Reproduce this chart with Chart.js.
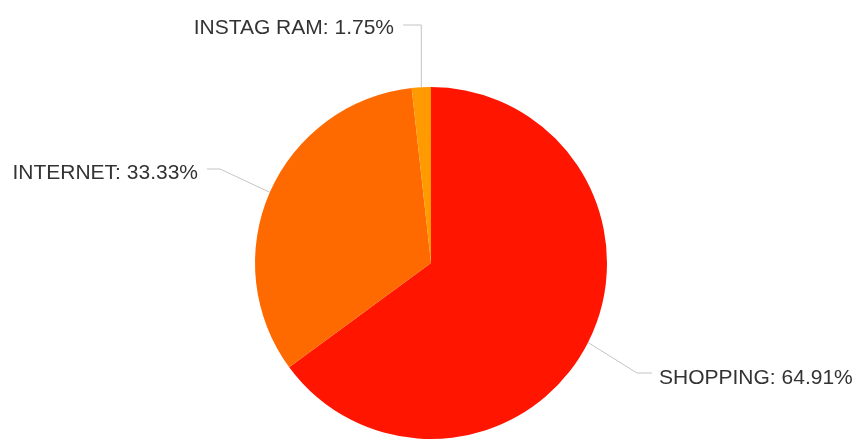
<!DOCTYPE html>
<html>
<head>
<meta charset="utf-8">
<script src="https://cdn.jsdelivr.net/npm/chart.js@4/dist/chart.umd.min.js"></script>
<style>
html,body{margin:0;padding:0;background:#fff;}
#wrap{width:856px;height:445px;position:relative;}
</style>
</head>
<body>
<div id="wrap"><canvas id="c" width="856" height="445"></canvas></div>
<script>
const categories = ["SHOPPING", "INTERNET", "INSTAGRAM"];
const displayNames = ["SHOPPING", "INTERNET", "INSTAG RAM"];
const counts = [37, 19, 1];
const percentLabels = ["64.91%", "33.33%", "1.75%"];
const colors = ["#ff1500", "#ff6a00", "#ff9a00"];

// leader-line layout per slice: elbow point and label placement
const leaderLayout = [
  {elbow:[637,373], end:[652,373], textX:659, baseY:384, align:"left"},
  {elbow:[220,169], end:[207,169], textX:198, baseY:179, align:"right"},
  {elbow:null, vert:25, end:[403,25], textX:394, baseY:34, align:"right"}
];

const leaderPlugin = {
  id: "leaders",
  afterDatasetsDraw(chart) {
    const ctx = chart.ctx;
    const meta = chart.getDatasetMeta(0);
    ctx.save();
    meta.data.forEach((arc, i) => {
      const p = arc.getProps(["x","y","startAngle","endAngle","outerRadius"], true);
      const mid = (p.startAngle + p.endAngle) / 2;
      const ax = p.x + Math.cos(mid) * p.outerRadius;
      const ay = p.y + Math.sin(mid) * p.outerRadius;
      const L = leaderLayout[i];
      ctx.strokeStyle = "#c4c4c4";
      ctx.lineWidth = 1;
      ctx.beginPath();
      ctx.moveTo(ax, ay);
      if (L.elbow) {
        ctx.lineTo(L.elbow[0], L.elbow[1]);
      } else {
        ctx.lineTo(ax, L.vert);
      }
      ctx.lineTo(L.end[0], L.end[1]);
      ctx.stroke();
      ctx.fillStyle = "#333333";
      ctx.font = '21px "Liberation Sans", Arial, sans-serif';
      ctx.textAlign = L.align;
      ctx.textBaseline = "alphabetic";
      ctx.fillText(displayNames[i] + ": " + percentLabels[i], L.textX, L.baseY);
    });
    ctx.restore();
  }
};

new Chart(document.getElementById("c"), {
  type: "pie",
  data: {
    labels: categories,
    datasets: [{
      data: counts,
      backgroundColor: colors,
      borderWidth: 0
    }]
  },
  options: {
    responsive: false,
    animation: false,
    layout: { padding: { top: 87, bottom: 6, left: 6, right: 0 } },
    plugins: { legend: { display: false }, tooltip: { enabled: false } }
  },
  plugins: [leaderPlugin]
});
</script>
</body>
</html>
